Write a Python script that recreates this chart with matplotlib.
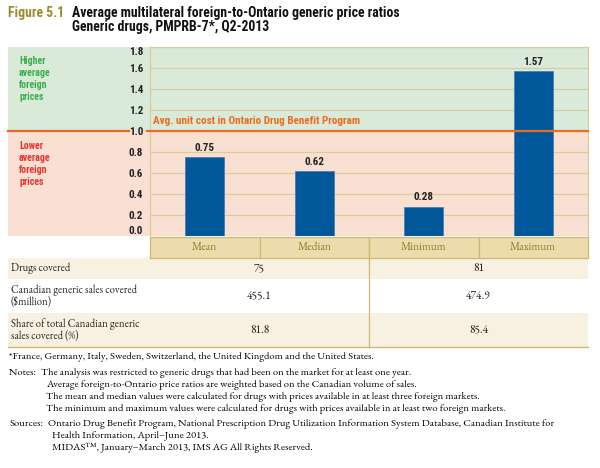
import matplotlib
matplotlib.use("Agg")
import matplotlib.pyplot as plt
from matplotlib.patches import Rectangle
from matplotlib.lines import Line2D
from matplotlib.transforms import blended_transform_factory

# ---------------- data ----------------
categories = ["Mean", "Median", "Minimum", "Maximum"]
ratios = [0.75, 0.62, 0.28, 1.57]
yticks = [0.0, 0.2, 0.4, 0.6, 0.8, 1.0, 1.2, 1.4, 1.6, 1.8]
reference_level = 1.0

row_labels = ["Drugs covered",
              "Canadian generic sales covered\n($million)",
              "Share of total Canadian generic\nsales covered (%)"]
mean_median_vals = ["75", "455.1", "81.8"]
min_max_vals = ["81", "474.9", "85.4"]

title_fig = "Figure 5.1"
title_l1 = "Average multilateral foreign-to-Ontario generic price ratios"
title_l2 = "Generic drugs, PMPRB-7*, Q2-2013"
higher_txt = "Higher\naverage\nforeign\nprices"
lower_txt = "Lower\naverage\nforeign\nprices"
ref_txt = "Avg. unit cost in Ontario Drug Benefit Program"

footnote = "*France, Germany, Italy, Sweden, Switzerland, the United Kingdom and the United States."
notes = ["The analysis was restricted to generic drugs that had been on the market for at least one year.",
         "Average foreign-to-Ontario price ratios are weighted based on the Canadian volume of sales.",
         "The mean and median values were calculated for drugs with prices available in at least three foreign markets.",
         "The minimum and maximum values were calculated for drugs with prices available in at least two foreign markets."]
sources = ["Ontario Drug Benefit Program, National Prescription Drug Utilization Information System Database, Canadian Institute for",
           "Health Information, April\u2013June 2013.",
           "MIDAS\u2122, January\u2013March 2013, IMS AG All Rights Reserved."]

# ---------------- style ----------------
W, H = 600, 468
COND = ["Roboto Condensed", "Liberation Sans Narrow", "DejaVu Sans"]
SERIF = ["EB Garamond", "Liberation Serif", "DejaVu Serif"]
GREEN_BG = "#d9ebd8"
PINK_BG = "#fadfd3"
ORANGE = "#ec6a21"
TAN = "#d8cc9a"
TAN_DARK = "#cbb874"
HEADER_BG = "#ecdcab"
HEADER_TXT = "#8c7d2a"
CREAM = "#f8f0e0"
BAR = "#00589b"
OLIVE = "#9c8a2e"


def fx(px):
    return px / W


def fy(py):
    return 1 - py / H


fig = plt.figure(figsize=(6, 4.68), dpi=100)
fig.patch.set_facecolor("white")

x_left, x_right = 150, 588
y_top, y_bot = 47, 236
ax = fig.add_axes([fx(x_left), fy(y_bot), fx(x_right - x_left), (y_bot - y_top) / H])
ax.patch.set_visible(False)
ax.set_xlim(-0.5, len(categories) - 0.5)
ax.set_ylim(0, 1.8)

bt = blended_transform_factory(fig.transFigure, ax.transData)

# background bands
ax.add_patch(Rectangle((fx(8), reference_level), fx(588) - fx(8), 1.8 - reference_level,
                       transform=bt, facecolor=GREEN_BG, edgecolor="none", zorder=0, clip_on=False))
ax.add_patch(Rectangle((fx(8), 0), fx(588) - fx(8), reference_level,
                       transform=bt, facecolor=PINK_BG, edgecolor="none", zorder=0, clip_on=False))

# gridlines
ax.set_yticks(yticks)
ax.yaxis.grid(True, color=TAN, linewidth=0.9)
ax.set_axisbelow(True)
ax.set_xticks([])
for s in ["left", "top", "right"]:
    ax.spines[s].set_color(TAN)
    ax.spines[s].set_linewidth(0.9)
ax.spines["bottom"].set_visible(False)
ax.tick_params(axis="y", length=0, pad=5)
ax.set_yticklabels([f"{v:.1f}" for v in yticks])
for lab in ax.get_yticklabels():
    lab.set_fontfamily(COND)
    lab.set_fontweight("bold")
    lab.set_fontsize(8)
    lab.set_color("#222222")
labs = ax.get_yticklabels()
labs[0].set_verticalalignment("bottom")
labs[-1].set_verticalalignment("top")

# reference line with gap at the label
for a, b in [(8, 129), (147, 588)]:
    ax.add_line(Line2D([fx(a), fx(b)], [reference_level, reference_level], transform=bt,
                       color=ORANGE, linewidth=1.6, clip_on=False, zorder=4))
ax.text(fx(153), reference_level + 0.045, ref_txt, transform=bt, color=ORANGE,
        fontfamily=COND, fontweight="bold", fontsize=8, va="bottom", ha="left", zorder=5)

# bars
xs = list(range(len(categories)))
ax.bar(xs, ratios, width=0.36, color=BAR, edgecolor="#4a7fb8", linewidth=0.6, zorder=3)
for x, v in zip(xs, ratios):
    ax.annotate(f"{v:.2f}", (x, v), xytext=(0, 3), textcoords="offset points",
                ha="center", va="bottom", fontfamily=COND, fontweight="bold",
                fontsize=8, color="#222222")

# left region labels
ax.text(fx(19), 1.71, higher_txt, transform=bt, color="#3aae4f", fontfamily=COND,
        fontweight="bold", fontsize=7.1, va="top", ha="left", linespacing=1.25)
ax.text(fx(19), 0.905, lower_txt, transform=bt, color="#e8342b", fontfamily=COND,
        fontweight="bold", fontsize=7.1, va="top", ha="left", linespacing=1.25)

# ---------------- table ----------------
tt = blended_transform_factory(ax.transData, fig.transFigure)
h_top, h_bot = 237, 258
row_bounds = [(258, 279), (279, 313), (313, 347)]

for i, cat in enumerate(categories):
    ax.add_patch(Rectangle((i - 0.5, fy(h_bot)), 1.0, fy(h_top) - fy(h_bot), transform=tt,
                           facecolor=HEADER_BG, edgecolor=TAN_DARK, linewidth=0.9,
                           clip_on=False, zorder=2))
    ax.text(i, (fy(h_top) + fy(h_bot)) / 2, cat, transform=tt, ha="center", va="center",
            fontfamily=SERIF, fontsize=8.2, fontweight="medium", color=HEADER_TXT, zorder=3)

for r, (t, b) in enumerate(row_bounds):
    if r % 2 == 0:
        fig.add_artist(Rectangle((fx(8), fy(b)), fx(588) - fx(8), fy(t) - fy(b),
                                 transform=fig.transFigure, facecolor=CREAM,
                                 edgecolor="none", zorder=0))
    yc = (fy(t) + fy(b)) / 2
    fig.text(fx(11), yc, row_labels[r], ha="left", va="center", fontfamily=SERIF,
             fontsize=7.7, color="#222222", linespacing=1.05)
    ax.text(0.5, yc, mean_median_vals[r], transform=tt, ha="center", va="center",
            fontfamily=SERIF, fontsize=8.3, color="#222222")
    ax.text(2.5, yc, min_max_vals[r], transform=tt, ha="center", va="center",
            fontfamily=SERIF, fontsize=8.3, color="#222222")

# vertical separator & bottom rule
ax.add_line(Line2D([1.5, 1.5], [fy(258), fy(347)], transform=tt, color=TAN_DARK,
                   linewidth=0.9, clip_on=False))
fig.add_artist(Line2D([fx(8), fx(588)], [fy(347), fy(347)], transform=fig.transFigure,
                      color=TAN_DARK, linewidth=1.0))

# ---------------- titles ----------------
fig.text(fx(8), fy(16.5), title_fig, ha="left", va="baseline", fontfamily=COND,
         fontweight="bold", fontsize=9.9, color=OLIVE)
fig.text(fx(72), fy(16.5), title_l1, ha="left", va="baseline", fontfamily=COND,
         fontweight="bold", fontsize=9.9, color="#111111")
fig.text(fx(72), fy(31), title_l2, ha="left", va="baseline", fontfamily=COND,
         fontweight="bold", fontsize=9.9, color="#111111")

# ---------------- footnotes ----------------
fs = 7.6
fig.text(fx(9), fy(357), footnote, ha="left", va="center", fontfamily=SERIF, fontsize=fs)
fig.text(fx(9), fy(373), "Notes:", ha="left", va="center", fontfamily=SERIF, fontsize=fs)
for k, line in enumerate(notes):
    fig.text(fx(41 if k == 0 else 46), fy(373 + 12 * k), line, ha="left", va="center",
             fontfamily=SERIF, fontsize=fs)
fig.text(fx(9), fy(424), "Sources:", ha="left", va="center", fontfamily=SERIF, fontsize=fs)
fig.text(fx(48), fy(424), sources[0], ha="left", va="center", fontfamily=SERIF, fontsize=fs)
fig.text(fx(52), fy(436), sources[1], ha="left", va="center", fontfamily=SERIF, fontsize=fs)
fig.text(fx(52), fy(448), sources[2], ha="left", va="center", fontfamily=SERIF, fontsize=fs)

fig.savefig("out.png", dpi=100)
